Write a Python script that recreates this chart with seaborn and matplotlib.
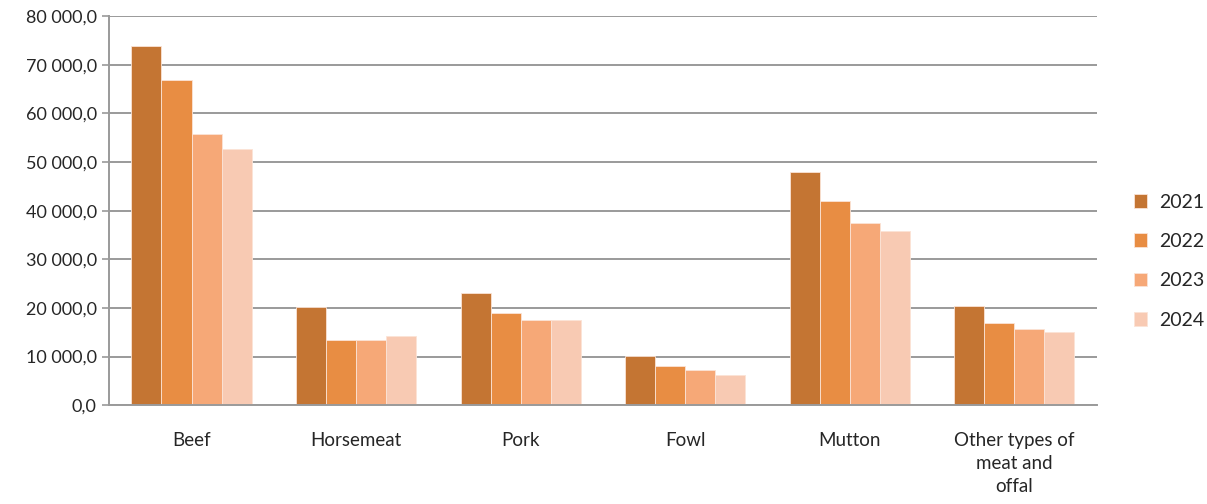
import matplotlib
matplotlib.use("Agg")
import matplotlib.pyplot as plt
import matplotlib.ticker as mticker
import seaborn as sns
import pandas as pd

categories = ['Beef', 'Horsemeat', 'Pork', 'Fowl', 'Mutton', 'Other types of\nmeat and\noffal']
years = ['2021', '2022', '2023', '2024']
v2021 = [73900, 20100, 23000, 10150, 47900, 20350]
v2022 = [66800, 13500, 18900, 8150, 41900, 16900]
v2023 = [55700, 13500, 17600, 7150, 37500, 15600]
v2024 = [52600, 14200, 17600, 6150, 35800, 15000]
colors = ['#C47533', '#E88D43', '#F6A877', '#F8CAB3']

rows = []
for year, vals in zip(years, [v2021, v2022, v2023, v2024]):
    for cat, v in zip(categories, vals):
        rows.append({'category': cat, 'year': year, 'value': v})
df = pd.DataFrame(rows)

sns.set_style('white')
plt.rcParams['font.family'] = ['Lato', 'DejaVu Sans']

fig = plt.figure(figsize=(12.07, 5.04), dpi=100)
ax = fig.add_axes([0.0905, 0.196, 0.818, 0.772])

sns.barplot(data=df, x='category', y='value', hue='year', palette=colors,
            width=0.73, edgecolor='#FBE3D6', linewidth=0.6, saturation=1, ax=ax)

ax.set_ylim(0, 80000)
ax.yaxis.set_major_locator(mticker.MultipleLocator(10000))
ax.yaxis.set_major_formatter(mticker.FuncFormatter(
    lambda v, p: '{:,.1f}'.format(v).replace(',', ' ').replace('.', ',')))
ax.grid(axis='y', color='#9A9A9A', linewidth=1.4)
ax.set_axisbelow(True)
for s in ['top', 'right']:
    ax.spines[s].set_visible(False)
ax.spines['left'].set_color('#9A9A9A')
ax.spines['bottom'].set_color('#9A9A9A')
ax.spines['left'].set_linewidth(1.4)
ax.spines['bottom'].set_linewidth(1.4)
ax.tick_params(axis='y', length=5, color='#9A9A9A', width=1.2, labelsize=13, pad=4, left=True)
ax.tick_params(axis='x', length=0, labelsize=13.5, pad=19)
for t in ax.get_xticklabels():
    t.set_linespacing(1.45)
    t.set_verticalalignment('top')
ax.set_xlabel('')
ax.set_ylabel('')
ax.set_xlim(-0.5, 5.5)

ax.legend(loc='center left', bbox_to_anchor=(1.02, 0.37), frameon=False,
          fontsize=14, handlelength=0.7, handleheight=0.7,
          labelspacing=1.15, handletextpad=0.6)

fig.savefig('out.png', dpi=100)
